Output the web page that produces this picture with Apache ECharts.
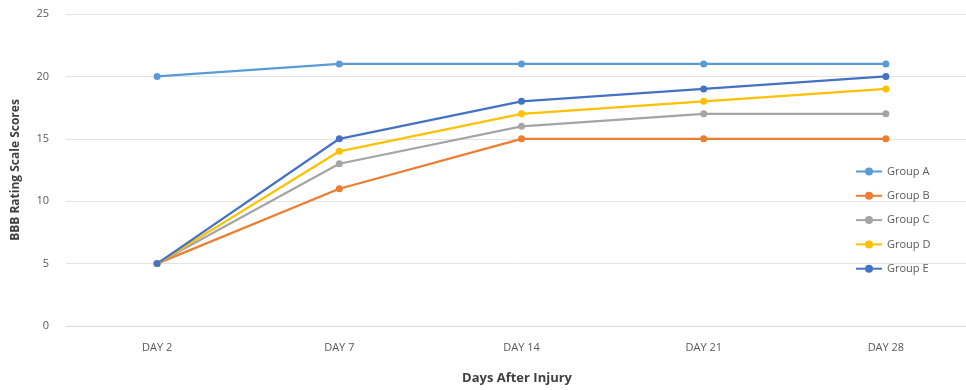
<!DOCTYPE html>
<html>
<head>
<meta charset="utf-8">
<script src="https://cdn.jsdelivr.net/npm/echarts@6/dist/echarts.min.js"></script>
<style>
  html, body { margin: 0; padding: 0; background: #fff; }
  #chart { width: 966px; height: 390px; }
</style>
</head>
<body>
<div id="chart"></div>
<script>
const days = ['DAY 2', 'DAY 7', 'DAY 14', 'DAY 21', 'DAY 28']
const groupA = [20, 21, 21, 21, 21]
const groupB = [5, 11, 15, 15, 15]
const groupC = [5, 13, 16, 17, 17]
const groupD = [5, 14, 17, 18, 19]
const groupE = [5, 15, 18, 19, 20]

const groups = [
  { name: 'Group A', data: groupA, color: '#5B9BD5' },
  { name: 'Group B', data: groupB, color: '#ED7D31' },
  { name: 'Group C', data: groupC, color: '#A5A5A5' },
  { name: 'Group D', data: groupD, color: '#FFC000' },
  { name: 'Group E', data: groupE, color: '#4472C4' }
]

const chart = echarts.init(document.getElementById('chart'))

const option = {
  animation: false,
  textStyle: { fontFamily: 'Open Sans' },
  // plot runs a little past the right edge, like the cropped original
  grid: { left: 66, top: 14, right: -11, bottom: 64, outerBoundsMode: 'none' },
  legend: {
    orient: 'vertical',
    left: 850,
    top: 161,
    itemWidth: 26,
    itemHeight: 10,
    itemGap: 13.3,
    textStyle: { color: '#595959', fontSize: 11 },
    data: groups.map(g => g.name)
  },
  xAxis: {
    type: 'category',
    data: days,
    boundaryGap: true,
    axisLine: { lineStyle: { color: '#d9d9d9' } },
    axisTick: { show: false },
    axisLabel: { color: '#595959', fontSize: 11, margin: 16 },
    name: 'Days After Injury',
    nameLocation: 'middle',
    nameGap: 46,
    nameTextStyle: { color: '#404040', fontSize: 13, fontWeight: 'bold', padding: [0, 9, 0, 0] }
  },
  yAxis: {
    type: 'value',
    min: 0,
    max: 25,
    interval: 5,
    axisLine: { show: false },
    axisTick: { show: false },
    splitLine: { lineStyle: { color: '#e3e3e3' } },
    axisLabel: { color: '#595959', fontSize: 11, margin: 17 },
    name: 'BBB Rating Scale Scores',
    nameLocation: 'middle',
    nameGap: 44,
    nameTextStyle: { color: '#404040', fontSize: 12, fontWeight: 'bold' }
  },
  series: groups.map(g => ({
    name: g.name,
    type: 'line',
    data: g.data,
    symbol: 'circle',
    symbolSize: 7,
    color: g.color,
    lineStyle: { width: 2.25, color: g.color },
    itemStyle: { color: g.color }
  }))
}

chart.setOption(option)
</script>
</body>
</html>
